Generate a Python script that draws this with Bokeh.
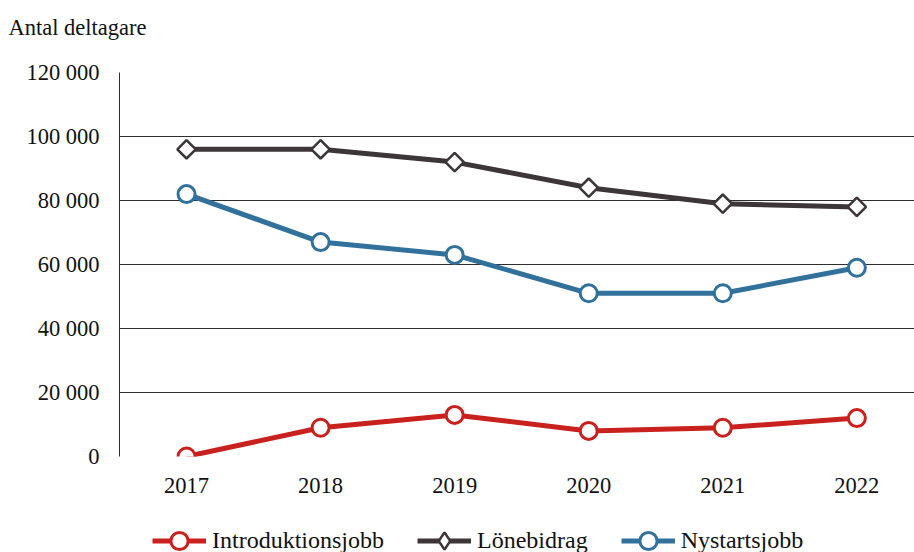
import math
from bokeh.plotting import figure
from bokeh.models import Range1d, FixedTicker, Legend, LegendItem
from bokeh.layouts import column
from bokeh.embed import file_html
from bokeh.resources import INLINE

years = [2017, 2018, 2019, 2020, 2021, 2022]
introduktionsjobb = [0, 9000, 13000, 8000, 9000, 12000]
lonebidrag = [96000, 96000, 92000, 84000, 79000, 78000]
nystartsjobb = [82000, 67000, 63000, 51000, 51000, 59000]
series_names = ["Introduktionsjobb", "Lönebidrag", "Nystartsjobb"]
y_ticks = [0, 20000, 40000, 60000, 80000, 100000, 120000]
y_tick_labels = ["0", "20 000", "40 000", "60 000", "80 000", "100 000", "120 000"]

FONT = "Liberation Serif"
RED = "#c9211e"
DARK = "#3d3537"
BLUE = "#31719b"
TXT = "#111111"

# title strip
t = figure(width=914, height=58, output_backend="svg", toolbar_location=None,
           x_axis_type=None, y_axis_type=None, min_border=0,
           x_range=Range1d(0, 1), y_range=Range1d(0, 1))
t.outline_line_color = None
t.grid.visible = False
t.title.text = "Antal deltagare"
t.title.text_font = FONT
t.title.text_font_size = "22.5px"
t.title.text_font_style = "normal"
t.title.text_color = TXT
t.title.align = "left"
t.title.offset = -111
t.title.standoff = 24

p = figure(width=914, height=444, output_backend="svg", toolbar_location=None,
           x_range=Range1d(2016.5, 2022.43), y_range=Range1d(0, 120000),
           min_border_left=119, min_border_right=0, min_border_top=14,
           min_border_bottom=46)
p.outline_line_color = None
p.background_fill_color = "white"
p.border_fill_color = "white"

p.xgrid.visible = False
p.ygrid.grid_line_color = "#2e2e2e"
p.ygrid.grid_line_width = 1
p.ygrid.ticker = FixedTicker(ticks=y_ticks)

p.yaxis.ticker = FixedTicker(ticks=y_ticks)
p.yaxis.major_label_overrides = {tk: s for tk, s in zip(y_ticks, y_tick_labels)}
p.yaxis.major_tick_line_color = None
p.yaxis.minor_tick_line_color = None
p.yaxis.axis_line_color = "#2e2e2e"
p.yaxis.major_label_text_font = FONT
p.yaxis.major_label_text_font_size = "22.5px"
p.yaxis.major_label_text_color = TXT
p.yaxis.major_label_standoff = 14

p.xaxis.ticker = FixedTicker(ticks=years)
p.xaxis.major_tick_line_color = None
p.xaxis.minor_tick_line_color = None
p.xaxis.axis_line_color = None
p.xaxis.major_label_text_font = FONT
p.xaxis.major_label_text_font_size = "22.5px"
p.xaxis.major_label_text_color = TXT
p.xaxis.major_label_standoff = 15

styles = [
    dict(color=RED, marker="circle", size=17, angle=0.0, lw=3, lmarker="circle"),
    dict(color=DARK, marker="square", size=13, angle=math.pi / 4, lw=2.5, lmarker="diamond"),
    dict(color=BLUE, marker="circle", size=17, angle=0.0, lw=3, lmarker="circle"),
]
series = [introduktionsjobb, lonebidrag, nystartsjobb]

for vals, st in zip(series, styles):
    p.line(years, vals, line_color=st["color"], line_width=5)
    p.scatter(years, vals, marker=st["marker"], size=st["size"], angle=st["angle"],
              fill_color="white", line_color=st["color"], line_width=st["lw"])

# legend strip below the chart (its renderers lie outside its range, only the legend shows)
lg = figure(width=914, height=50, output_backend="svg", toolbar_location=None,
            x_axis_type=None, y_axis_type=None, min_border=0,
            x_range=Range1d(0, 1), y_range=Range1d(0, 1))
lg.outline_line_color = None
lg.grid.visible = False
lg.background_fill_color = "white"
lg.border_fill_color = "white"

items = []
for name, vals, st in zip(series_names, series, styles):
    r1 = lg.line(years, vals, line_color=st["color"], line_width=5)
    r2 = lg.scatter(years, vals, marker=st["lmarker"], size=st["size"],
                    fill_color="white", line_color=st["color"], line_width=st["lw"])
    items.append(LegendItem(label=name, renderers=[r1, r2]))

legend = Legend(items=items, orientation="horizontal", location=(33, -10))
legend.label_text_font = FONT
legend.label_text_font_size = "24px"
legend.label_text_color = TXT
legend.glyph_width = 54
legend.glyph_height = 43
legend.label_standoff = 6
legend.spacing = 33
legend.border_line_color = None
legend.background_fill_alpha = 0
legend.margin = 0
legend.padding = 0
lg.add_layout(legend)

layout = column(t, p, lg, spacing=0)
open("out.html", "w").write(file_html(layout, INLINE))
